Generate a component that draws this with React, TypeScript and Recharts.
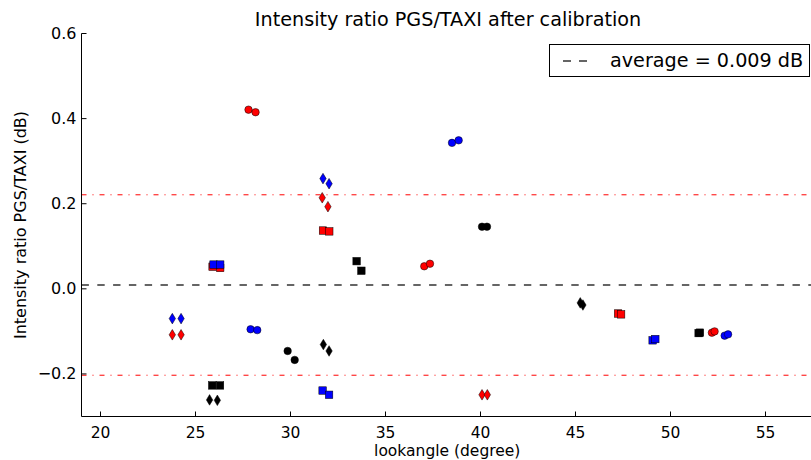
import { ScatterChart, Scatter, XAxis, YAxis, ReferenceLine, Legend } from 'recharts';

// values (lookangle in degree, ratio in dB)
const redCircles = [
  { x: 27.79, y: 0.421 }, { x: 28.16, y: 0.415 },
  { x: 37.04, y: 0.053 }, { x: 37.34, y: 0.059 },
  { x: 52.18, y: -0.103 }, { x: 52.32, y: -0.1 },
];
const blueCircles = [
  { x: 38.5, y: 0.343 }, { x: 38.85, y: 0.349 },
  { x: 27.9, y: -0.095 }, { x: 28.25, y: -0.097 },
  { x: 52.85, y: -0.11 }, { x: 53.03, y: -0.107 },
];
const blackCircles = [
  { x: 40.08, y: 0.146 }, { x: 40.34, y: 0.146 },
  { x: 29.85, y: -0.146 }, { x: 30.22, y: -0.167 },
];
const redDiamonds = [
  { x: 31.67, y: 0.214 }, { x: 31.97, y: 0.193 },
  { x: 23.78, y: -0.108 }, { x: 24.24, y: -0.108 },
  { x: 40.08, y: -0.249 }, { x: 40.36, y: -0.249 },
];
const blueDiamonds = [
  { x: 31.71, y: 0.259 }, { x: 32.03, y: 0.247 },
  { x: 23.78, y: -0.07 }, { x: 24.24, y: -0.07 },
];
const blackDiamonds = [
  { x: 31.73, y: -0.131 }, { x: 32.03, y: -0.146 },
  { x: 25.74, y: -0.261 }, { x: 26.15, y: -0.262 },
  { x: 45.25, y: -0.033 }, { x: 45.39, y: -0.038 },
];
const redSquares = [
  { x: 31.71, y: 0.137 }, { x: 32.04, y: 0.135 },
  { x: 25.9, y: 0.052 }, { x: 26.3, y: 0.049 },
  { x: 47.24, y: -0.058 }, { x: 47.4, y: -0.06 },
];
const blueSquares = [
  { x: 25.95, y: 0.057 }, { x: 26.3, y: 0.057 },
  { x: 31.69, y: -0.239 }, { x: 32.03, y: -0.249 },
  { x: 49.06, y: -0.121 }, { x: 49.2, y: -0.118 },
];
const blackSquares = [
  { x: 33.48, y: 0.065 }, { x: 33.73, y: 0.0425 },
  { x: 25.88, y: -0.227 }, { x: 26.29, y: -0.227 },
  { x: 51.48, y: -0.104 }, { x: 51.55, y: -0.103 },
];

const average = 0.009;
const upperBound = 0.221;
const lowerBound = -0.203;

const xTicks = [20, 25, 30, 35, 40, 45, 50, 55];
const yTicks = [-0.2, 0, 0.2, 0.4, 0.6];

const font = '"DejaVu Sans", sans-serif';
const baseSize = 16;
const bottomSize = 15.5;
const largeSize = 19.2;
const MS = 7.5; // marker size

const circle = (color: string) => (p: any) => (
  <circle cx={p.cx} cy={p.cy} r={MS / 2} fill={color} stroke="#000" strokeWidth={0.5} />
);
const square = (color: string) => (p: any) => (
  <rect x={p.cx - MS / 2} y={p.cy - MS / 2} width={MS} height={MS} fill={color} stroke="#000" strokeWidth={0.5} />
);
const diamond = (color: string) => (p: any) => {
  const w = MS * 0.85 / 2;
  const h = MS * 1.41 / 2;
  return (
    <path
      d={`M${p.cx},${p.cy - h}L${p.cx + w},${p.cy}L${p.cx},${p.cy + h}L${p.cx - w},${p.cy}Z`}
      fill={color} stroke="#000" strokeWidth={0.5}
    />
  );
};

function BottomTick({ x, y, payload }: any) {
  return (
    <g>
      <line x1={x} y1={y} x2={x} y2={y - 5} stroke="#000" strokeWidth={1} />
      <text x={x} y={y + 21} textAnchor="middle" fontSize={bottomSize} fontFamily={font} fill="#000">
        {payload.value}
      </text>
    </g>
  );
}

function TopTick({ x, y }: any) {
  return <line x1={x} y1={y} x2={x} y2={y + 5} stroke="#000" strokeWidth={1} />;
}

function LeftTick({ x, y, payload }: any) {
  const label = Number(payload.value).toFixed(1).replace('-', '\u2212');
  return (
    <g>
      <line x1={x} y1={y} x2={x + 5} y2={y} stroke="#000" strokeWidth={1} />
      <text x={x - 5} y={y + 5.5} textAnchor="end" fontSize={baseSize} fontFamily={font} fill="#000">
        {label}
      </text>
    </g>
  );
}

function yLabel(props: any) {
  const vb = props.viewBox || { y: 33.5, height: 383 };
  const cy = vb.y + vb.height / 2;
  return (
    <text
      transform={`translate(26, ${cy}) rotate(-90)`}
      textAnchor="middle" fontSize={baseSize} fontFamily={font} fill="#000"
    >
      Intensity ratio PGS/TAXI (dB)
    </text>
  );
}

function LegendBox() {
  return (
    <div style={{
      width: 259, height: 31, border: '1px solid #000', background: '#fff',
      display: 'flex', alignItems: 'center', fontFamily: font, fontSize: largeSize, color: '#000',
      boxSizing: 'content-box',
    }}>
      <svg width={60} height={20} style={{ flex: 'none' }}>
        <line x1={13} y1={10} x2={37} y2={10} stroke="#333" strokeWidth={1.4} strokeDasharray="8 8" />
      </svg>
      <span>average = {average.toFixed(3)} dB</span>
    </div>
  );
}

export default function App() {
  return (
    <div style={{
      position: 'absolute', left: 0, top: 0, width: 811, height: 460,
      overflow: 'hidden', background: '#fff',
    }}>
      <div style={{
        position: 'absolute', left: 0, width: 896, top: 9, textAlign: 'center',
        fontFamily: font, fontSize: largeSize, color: '#000', lineHeight: '22px',
      }}>
        Intensity ratio PGS/TAXI after calibration
      </div>
      <ScatterChart width={815} height={460} margin={{ top: 33.5, right: 2, bottom: 0, left: 21.5 }}>
        <XAxis
          xAxisId="top" orientation="top" type="number" dataKey="x" domain={[19, 57.5]}
          allowDataOverflow ticks={xTicks} interval={0} height={0}
          tickSize={0} tickMargin={0} tick={<TopTick />} axisLine={{ stroke: '#000', strokeWidth: 1 }}
        />
        <XAxis
          xAxisId="bottom" type="number" dataKey="x" domain={[19, 57.5]} allowDataOverflow
          ticks={xTicks} interval={0} height={43.5} tickSize={0} tickMargin={0}
          tick={<BottomTick />} axisLine={{ stroke: '#000', strokeWidth: 1 }}
          label={{ value: 'lookangle (degree)', position: 'insideBottom', offset: 3.8, fontSize: bottomSize, fontFamily: font, fill: '#000' }}
        />
        <YAxis
          type="number" dataKey="y" domain={[-0.3, 0.6]} allowDataOverflow ticks={yTicks}
          interval={0} width={60} tickSize={0} tickMargin={0} tick={<LeftTick />}
          axisLine={{ stroke: '#000', strokeWidth: 1 }} label={yLabel}
        />
        <Legend
          layout="horizontal" verticalAlign="middle" align="center"
          content={() => <LegendBox />}
          wrapperStyle={{ position: 'absolute', left: 549, top: 44, width: 261, height: 33 }}
        />
        <ReferenceLine xAxisId="bottom" y={upperBound} stroke="#ff0000" strokeWidth={1} strokeDasharray="5 6 1 6" />
        <ReferenceLine xAxisId="bottom" y={lowerBound} stroke="#ff0000" strokeWidth={1} strokeDasharray="5 6 1 6" />
        <ReferenceLine xAxisId="bottom" y={average} stroke="#333" strokeWidth={1.4} strokeDasharray="7.4 8.4" />

        <Scatter xAxisId="bottom" name="red circles" data={redCircles} shape={circle('#ff0000')} isAnimationActive={false} />
        <Scatter xAxisId="bottom" name="red diamonds" data={redDiamonds} shape={diamond('#ff0000')} isAnimationActive={false} />
        <Scatter xAxisId="bottom" name="red squares" data={redSquares} shape={square('#ff0000')} isAnimationActive={false} />
        <Scatter xAxisId="bottom" name="black circles" data={blackCircles} shape={circle('#000000')} isAnimationActive={false} />
        <Scatter xAxisId="bottom" name="black diamonds" data={blackDiamonds} shape={diamond('#000000')} isAnimationActive={false} />
        <Scatter xAxisId="bottom" name="black squares" data={blackSquares} shape={square('#000000')} isAnimationActive={false} />
        <Scatter xAxisId="bottom" name="blue circles" data={blueCircles} shape={circle('#0000ff')} isAnimationActive={false} />
        <Scatter xAxisId="bottom" name="blue diamonds" data={blueDiamonds} shape={diamond('#0000ff')} isAnimationActive={false} />
        <Scatter xAxisId="bottom" name="blue squares" data={blueSquares} shape={square('#0000ff')} isAnimationActive={false} />
      </ScatterChart>
    </div>
  );
}
